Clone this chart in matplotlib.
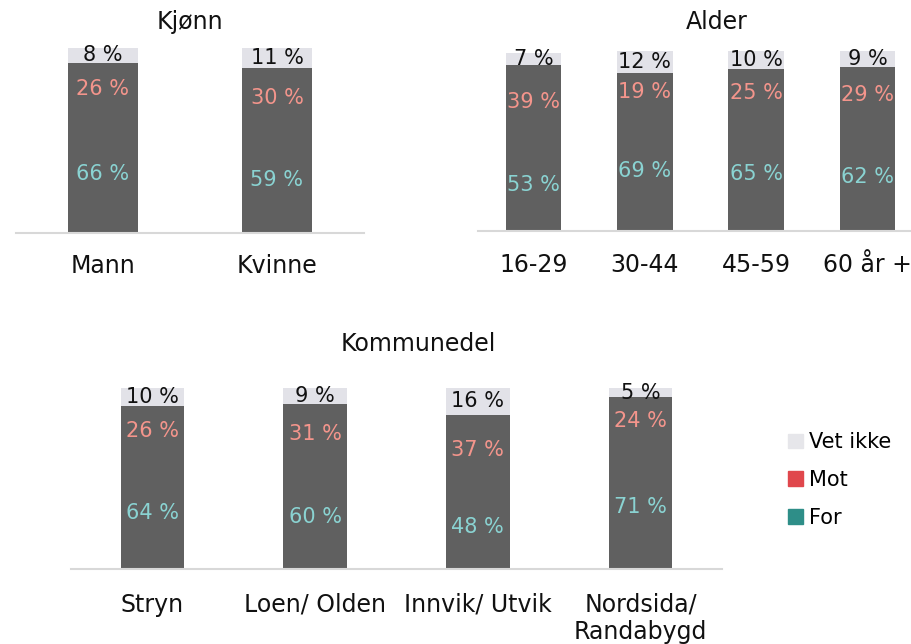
import matplotlib
matplotlib.use("Agg")
import matplotlib.pyplot as plt
from matplotlib.patches import Patch

plt.rcParams['font.family'] = ['DejaVu Sans']

# ---- data ----
kjonn_cats = ['Mann', 'Kvinne']
kjonn_for = [66, 59]
kjonn_mot = [26, 30]
kjonn_vet = [8, 11]

alder_cats = ['16-29', '30-44', '45-59', '60 år +']
alder_for = [53, 69, 65, 62]
alder_mot = [39, 19, 25, 29]
alder_vet = [7, 12, 10, 9]

komm_cats = ['Stryn', 'Loen/ Olden', 'Innvik/ Utvik', 'Nordsida/\nRandabygd']
komm_for = [64, 60, 48, 71]
komm_mot = [26, 31, 37, 24]
komm_vet = [10, 9, 16, 5]

series_names = ['For', 'Mot', 'Vet ikke']

# ---- style ----
W, H = 912, 644
BAR = '#606060'
VET = '#e2e2e8'
FOR_TXT = '#8ad3d2'
MOT_TXT = '#f4958c'
VET_TXT = '#111111'
LINE = '#d8d8d8'
LEG_FOR = '#2e8e88'
LEG_MOT = '#e0474c'
LEG_VET = '#e6e6ea'

fig = plt.figure(figsize=(W / 100, H / 100), dpi=100)


def px_axes(x0, x1, ybot, ytop):
    return fig.add_axes([x0 / W, (H - ybot) / H, (x1 - x0) / W, (ybot - ytop) / H])


def panel(ax, cats, f, m, v, width, xlim, pad):
    x = list(range(len(cats)))
    ax.bar(x, f, width=width, color=BAR, linewidth=0)
    ax.bar(x, m, width=width, bottom=f, color=BAR, linewidth=0)
    bot2 = [a + b for a, b in zip(f, m)]
    ax.bar(x, v, width=width, bottom=bot2, color=VET, linewidth=0)
    for i in x:
        ax.text(i, f[i] / 2 - 1, f'{f[i]} %', ha='center', va='center',
                color=FOR_TXT, fontsize=15)
        ax.text(i, f[i] + m[i] / 2 - 1, f'{m[i]} %', ha='center', va='center',
                color=MOT_TXT, fontsize=15)
        ax.text(i, bot2[i] + v[i] / 2, f'{v[i]} %', ha='center', va='center',
                color=VET_TXT, fontsize=15)
    ax.set_xlim(*xlim)
    ax.set_ylim(0, 100)
    ax.set_xticks(x, cats)
    ax.tick_params(axis='x', length=0, pad=pad, labelsize=17, colors='#111111')
    ax.set_yticks([])
    for s in ['top', 'left', 'right']:
        ax.spines[s].set_visible(False)
    ax.spines['bottom'].set_color(LINE)
    ax.spines['bottom'].set_linewidth(1.5)
    ax.patch.set_alpha(0)


ax1 = px_axes(16, 364, 233, 48)
panel(ax1, kjonn_cats, kjonn_for, kjonn_mot, kjonn_vet, 0.40, (-0.5, 1.5), 15)

ax2 = px_axes(478, 910, 231, 51)
panel(ax2, alder_cats, alder_for, alder_mot, alder_vet, 0.50, (-0.5, 3.383), 16)

ax3 = px_axes(71, 722, 569, 388)
panel(ax3, komm_cats, komm_for, komm_mot, komm_vet, 0.39, (-0.5, 3.5), 17)

fig.text(190 / W, 1 - 22 / H, 'Kjønn', ha='center', va='center', fontsize=17, color='#111111')
fig.text(717 / W, 1 - 22 / H, 'Alder', ha='center', va='center', fontsize=17, color='#111111')
fig.text(418 / W, 1 - 344 / H, 'Kommunedel', ha='center', va='center', fontsize=17, color='#111111')

handles = [Patch(color=LEG_VET, label=series_names[2]),
           Patch(color=LEG_MOT, label=series_names[1]),
           Patch(color=LEG_FOR, label=series_names[0])]
fig.legend(handles=handles, loc='upper left', bbox_to_anchor=(780 / W, 1 - 424 / H),
           frameon=False, fontsize=15, handlelength=0.7, handleheight=0.7,
           handletextpad=0.3, labelspacing=0.85, borderaxespad=0)

fig.savefig('out.png', dpi=100)
